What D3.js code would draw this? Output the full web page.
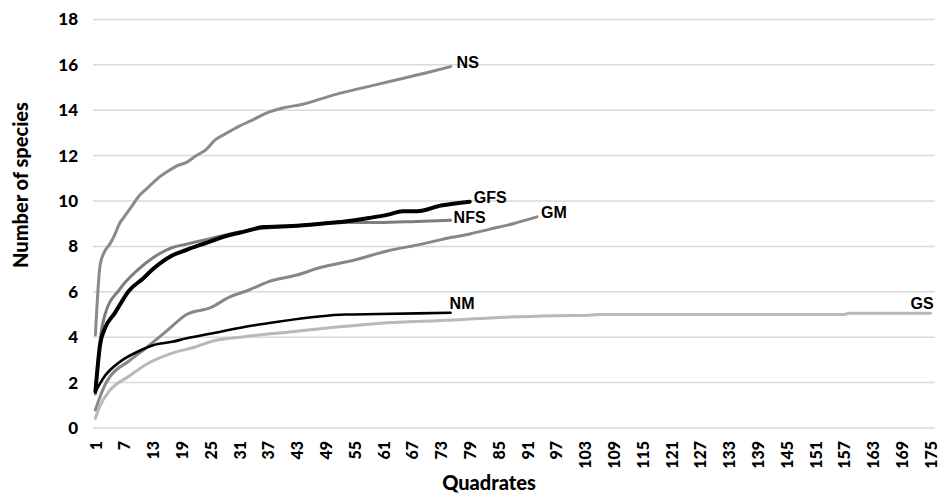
<!DOCTYPE html>
<html>
<head>
<meta charset="utf-8">
<script src="https://cdn.jsdelivr.net/npm/d3@7"></script>
<style>
body { margin:0; background:#fff; }
svg { display:block; }
</style>
</head>
<body>
<svg id="graph" width="941" height="496"></svg>
<script>
// quadrate samples and species counts
var nsQ = [1,2,3,4,5,6,7,8,9,10,12,14,16,18,20,22,24,26,28,31,34,37,40,44,48,52,56,60,65,70,75];
var nsV = [4.1,7.2,7.8,8.1,8.5,9.0,9.3,9.6,9.9,10.2,10.6,11.0,11.3,11.55,11.7,12.0,12.25,12.7,12.95,13.3,13.6,13.9,14.1,14.25,14.5,14.75,14.95,15.15,15.4,15.65,15.92];

var gfsQ = [1,2,3,5,8,11,13,17,20,24,26,29,32,36,42,48,53,58,62,65,68,73,79];
var gfsV = [1.6,3.7,4.4,5.05,6.05,6.6,7.0,7.6,7.85,8.15,8.3,8.5,8.65,8.85,8.9,9.0,9.1,9.25,9.4,9.55,9.55,9.8,9.97];

var nfsQ = [1,2,3,6,10,13,17,20,24,29,36,42,48,53,60,68,75];
var nfsV = [1.5,3.9,5.0,6.1,7.0,7.5,7.95,8.1,8.3,8.55,8.8,8.9,9.0,9.05,9.05,9.1,9.15];

var gmQ = [1,3,4,8,12,16,20,25,29,33,37,43,48,55,62,69,73,79,83,88,93];
var gmV = [0.8,1.9,2.25,2.95,3.6,4.3,5.0,5.3,5.78,6.08,6.44,6.74,7.08,7.4,7.81,8.1,8.3,8.55,8.75,9.0,9.3];

var nmQ = [1,3,6,10,13,17,20,26,32,39,47,53,60,68,75];
var nmV = [1.6,2.3,2.9,3.38,3.65,3.8,3.95,4.2,4.45,4.68,4.9,5.0,5.02,5.05,5.08];

var gsQ = [1,2,4,8,12,17,22,25,32,42,52,63,72,79,86,97,104,106,157,158,175];
var gsV = [0.43,1.0,1.65,2.28,2.85,3.3,3.58,3.8,4.02,4.24,4.46,4.65,4.72,4.8,4.88,4.95,4.97,5.0,5.0,5.05,5.05];

var yTicks = [0,2,4,6,8,10,12,14,16,18];
var xTicks = [1,7,13,19,25,31,37,43,49,55,61,67,73,79,85,91,97,103,109,115,121,127,133,139,145,151,157,163,169,175];
var quadrates = [];
for (var i = 1; i <= 175; i++) { quadrates.push(i); }

var series = [
    {name:"GS",  q:gsQ,  v:gsV,  color:"#b9b9b9", width:3,   lx:3, ly:-4, anchor:"end"},
    {name:"GM",  q:gmQ,  v:gmV,  color:"#878787", width:3,   lx:4, ly:1.5, anchor:"start"},
    {name:"NS",  q:nsQ,  v:nsV,  color:"#8a8a8a", width:3,   lx:6, ly:1, anchor:"start"},
    {name:"NFS", q:nfsQ, v:nfsV, color:"#7d7d7d", width:3,   lx:3, ly:3, anchor:"start"},
    {name:"NM",  q:nmQ,  v:nmV,  color:"#000000", width:2.6, lx:-1, ly:-4, anchor:"start"},
    {name:"GFS", q:gfsQ, v:gfsV, color:"#000000", width:4,   lx:4, ly:1.5, anchor:"start"}
];

var svg = d3.select("#graph");
svg.append("rect").attr("width",941).attr("height",496).attr("fill","#fff");

var xScale = d3.scalePoint()
    .domain(quadrates)
    .range([93,933])
    .padding(0.5);

var yScale = d3.scaleLinear()
    .domain([0,18])
    .range([428,19.4]);

// gridlines
svg.append("g")
    .selectAll("line")
    .data(yTicks)
    .enter()
    .append("line")
    .attr("x1",93)
    .attr("x2",935)
    .attr("y1",function(d){ return yScale(d); })
    .attr("y2",function(d){ return yScale(d); })
    .attr("stroke","#dadada")
    .attr("stroke-width",1.5);

// y axis
var yAxis = svg.append("g")
    .attr("transform","translate(93,0)")
    .call(d3.axisLeft(yScale).tickValues(yTicks).tickSize(0).tickPadding(15));
yAxis.select(".domain").remove();
yAxis.selectAll("text")
    .attr("font-family","Lato")
    .attr("font-weight","900")
    .attr("font-size",17)
    .attr("fill","#000");

// x axis, labels turned
var xAxis = svg.append("g")
    .attr("transform","translate(0,428)")
    .call(d3.axisBottom(xScale).tickValues(xTicks).tickSize(0));
xAxis.select(".domain").remove();
xAxis.selectAll("text")
    .attr("transform","rotate(-90)")
    .attr("y",0)
    .attr("x",-13)
    .attr("dy","0.35em")
    .attr("text-anchor","end")
    .attr("font-family","Lato")
    .attr("font-weight","900")
    .attr("font-size",16)
    .attr("fill","#000");

// lines
var line = d3.line()
    .x(function(d){ return xScale(d[0]); })
    .y(function(d){ return yScale(d[1]); })
    .curve(d3.curveMonotoneX);

series.forEach(function(s)
{
    var pts = s.q.map(function(q,j){ return [q, s.v[j]]; });
    svg.append("path")
        .datum(pts)
        .attr("d",line)
        .attr("fill","none")
        .attr("stroke",s.color)
        .attr("stroke-width",s.width)
        .attr("stroke-linejoin","round")
        .attr("stroke-linecap","round");
});

// end labels
series.forEach(function(s)
{
    var last = s.q.length-1;
    svg.append("text")
        .attr("x",xScale(s.q[last])+s.lx)
        .attr("y",yScale(s.v[last])+s.ly)
        .attr("text-anchor",s.anchor)
        .attr("font-family","Liberation Sans, Arial")
        .attr("font-weight","bold")
        .attr("font-size",16)
        .attr("fill","#000")
        .text(s.name);
});

// axis titles
svg.append("text")
    .attr("transform","translate(28,185) rotate(-90)")
    .attr("text-anchor","middle")
    .attr("font-family","Lato")
    .attr("font-weight","900")
    .attr("font-size",20)
    .text("Number of species");

svg.append("text")
    .attr("x",489)
    .attr("y",490)
    .attr("text-anchor","middle")
    .attr("font-family","Lato")
    .attr("font-weight","900")
    .attr("font-size",20)
    .text("Quadrates");
</script>
</body>
</html>
